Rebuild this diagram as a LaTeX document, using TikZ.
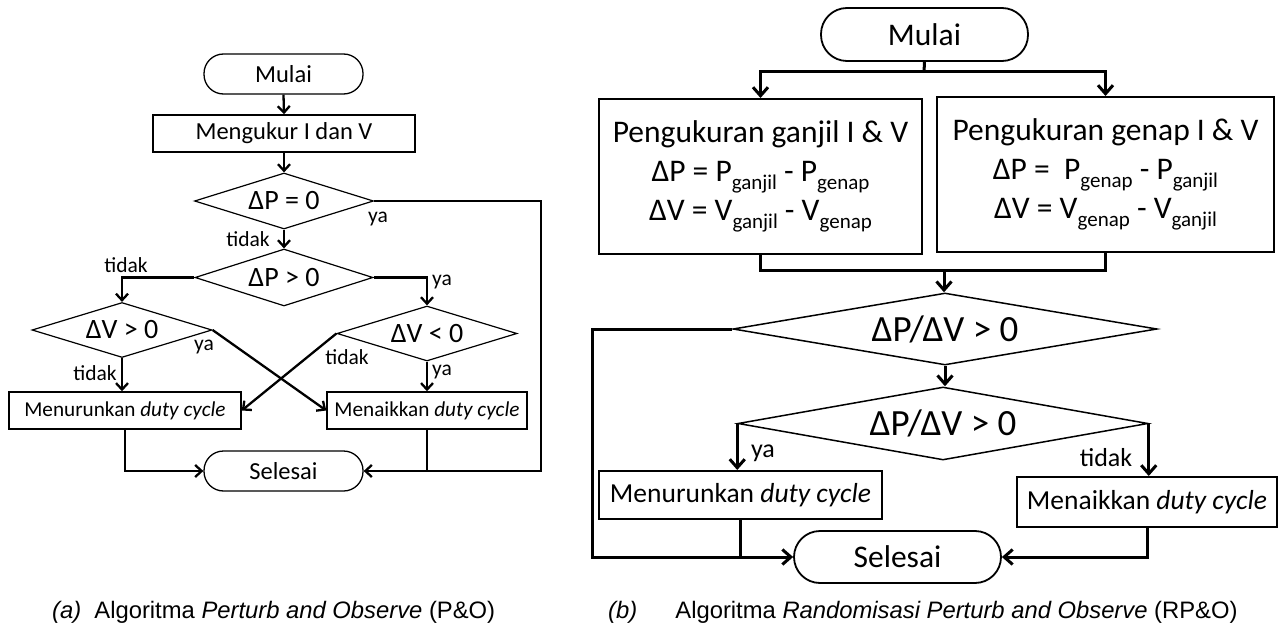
\documentclass[tikz,border=0pt]{standalone}
\usepackage{fontspec}
\setmainfont{Carlito}
\newfontfamily\capfont{Liberation Sans}
\usetikzlibrary{arrows.meta,shapes.geometric}
\newcommand{\setfs}[1]{\fontsize{#1}{#1}\selectfont}
\newcommand{\sbt}[1]{\raisebox{-0.26em}{\fontsize{21}{21}\selectfont #1}}
\tikzset{
  lterm/.style={draw, rectangle, line width=1.3pt, rounded corners=19.5pt, minimum width=159pt, minimum height=40pt, inner sep=0pt, font=\setfs{24.5}},
  lbox/.style={draw, rectangle, line width=1.5pt, inner sep=0pt, minimum height=37pt},
  ldia/.style={draw, diamond, line width=1.2pt, inner sep=0pt, aspect=3.2, font=\setfs{28}},
  llab/.style={inner sep=0pt, font=\setfs{21.5}},
  la/.style={line width=2.3pt, -{Straight Barb[length=6.5pt,width=12pt]}},
  ll/.style={line width=2.3pt},
  rterm/.style={draw, rectangle, line width=1.8pt, rounded corners=26pt, minimum width=207pt, minimum height=53pt, inner sep=0pt, font=\setfs{31.5}},
  rbox/.style={draw, rectangle, line width=2pt, inner sep=0pt},
  rdia/.style={draw, diamond, line width=1.5pt, inner sep=0pt, aspect=5.8, font=\setfs{37}},
  rlab/.style={inner sep=0pt, font=\setfs{26}},
  ra/.style={line width=3pt, -{Straight Barb[length=8.5pt,width=15pt]}},
  rl/.style={line width=3pt},
  capt/.style={inner sep=0pt, anchor=west, font=\capfont\setfs{23.8}}
}
\begin{document}
\begin{tikzpicture}[x=1pt,y=-1pt]
\useasboundingbox (0,0) rectangle (1279,631);
% ---------------- left diagram ----------------
\node[lterm] (m1) at (283.5,74) {Mulai};
\node[lbox, minimum width=262pt, font=\setfs{24.5}] (mk) at (284,133.5) {Mengukur I dan V};
\node[ldia, minimum width=179pt, minimum height=56pt] (d1) at (284,201) {ΔP = 0};
\node[ldia, minimum width=178pt, minimum height=57pt] (d2) at (284,277.5) {ΔP > 0};
\node[ldia, minimum width=180pt, minimum height=55pt] (d3) at (122,330) {ΔV > 0};
\node[ldia, minimum width=180pt, minimum height=55pt] (d4) at (427,333.5) {ΔV < 0};
\node[lbox, minimum width=232pt, font=\setfs{21.2}] (b1) at (125,410.5) {Menurunkan \textit{duty cycle}};
\node[lbox, minimum width=200pt, font=\setfs{21.2}] (b2) at (427,410.5) {Menaikkan \textit{duty cycle}};
\node[lterm] (s1) at (283.5,471) {Selesai};
\coordinate (R) at (541,201);

\draw[la] (m1.south) -- (mk.north);
\draw[la] (mk.south) -- (d1.north);
\draw[la] (d1.south) -- (d2.north);
\draw[la] (d2.west) -| (d3.north);
\draw[la] (d2.east) -| (d4.north);
\draw[la] (d3.south) -- (d3.south |- b1.north);
\draw[la] (d4.south) -- (d4.south |- b2.north);
\draw[la] (d3.east) -- (b2.west);
\draw[la] (d4.west) -- (b1.east);
\draw[la] (b1.south) |- (s1.west);
\draw[la] (d1.east) -- (R) |- (s1.east);
\draw[ll] (b2.south) -- (b2.south |- s1.east);

\node[llab] (ya1) at (378,219) {ya};
\node[llab] (ti1) at (248,239) {tidak};
\node[llab] (ti2) at (126,265) {tidak};
\node[llab] (ya2) at (442,282) {ya};
\node[llab] (ya3) at (204,347) {ya};
\node[llab] (ti3) at (347,357) {tidak};
\node[llab] (ti4) at (95,373) {tidak};
\node[llab] (ya4) at (442,372) {ya};

% ---------------- right diagram ----------------
\node[rterm] (m2) at (924.5,34.5) {Mulai};
\node[rbox, minimum width=323pt, minimum height=155pt, align=center, font=\fontsize{31.5}{39}\selectfont] (bl) at (760.5,176.5)
  {Pengukuran ganjil I \& V\\ΔP = P\sbt{ganjil} - P\sbt{genap}\\ΔV = V\sbt{ganjil} - V\sbt{genap}};
\node[rbox, minimum width=337pt, minimum height=155pt, align=center, font=\fontsize{31.5}{39}\selectfont] (br) at (1105.5,174.5)
  {Pengukuran genap I \& V\\ΔP = \ P\sbt{genap} - P\sbt{ganjil}\\ΔV = V\sbt{genap} - V\sbt{ganjil}};
\node[rdia, minimum width=424pt, minimum height=72pt] (q1) at (945,329) {ΔP/ΔV > 0};
\node[rdia, minimum width=410pt, minimum height=73pt] (q2) at (943,423.5) {ΔP/ΔV > 0};
\node[rbox, minimum width=283pt, minimum height=48pt, font=\setfs{27.5}] (b3) at (740.5,495) {Menurunkan \textit{duty cycle}};
\node[rbox, minimum width=260pt, minimum height=50pt, font=\setfs{27.5}] (b4) at (1147,502) {Menaikkan \textit{duty cycle}};
\node[rterm, minimum height=52pt] (s2) at (897.5,557) {Selesai};
\coordinate (j1) at (924,72);
\coordinate (j2) at (944,270);
\coordinate (L) at (592,329);

\draw[rl] (m2.south) -- (j1);
\draw[ra] (j1) -| (bl.north);
\draw[ra] (j1) -| (br.north);
\draw[rl] (bl.south) |- (j2);
\draw[rl] (br.south) |- (j2);
\draw[ra] (j2) -- (j2 |- q1.north);
\draw[ra] (q1.south) -- (q1.south |- q2.north);
\draw[ra] (q1.west) -- (L) |- (s2.west);
\draw[ra] (q2.west) -- (q2.west |- b3.north);
\draw[ra] (q2.east) -- (q2.east |- b4.north);
\draw[rl] (b3.south) -- (b3.south |- s2.west);
\draw[ra] (b4.south) |- (s2.east);

\node[rlab] (ya5) at (763,453) {ya};
\node[rlab] (ti5) at (1106,458) {tidak};

% ---------------- captions ----------------
\node[capt] (ca) at (52,612) {\textit{(a)}\hspace{0.55em}Algoritma \textit{Perturb and Observe} (P\&O)};
\node[capt] (cb) at (608,612) {\textit{(b)}\hspace{1.6em}Algoritma \textit{Randomisasi Perturb and Observe} (RP\&O)};
\end{tikzpicture}
\end{document}
